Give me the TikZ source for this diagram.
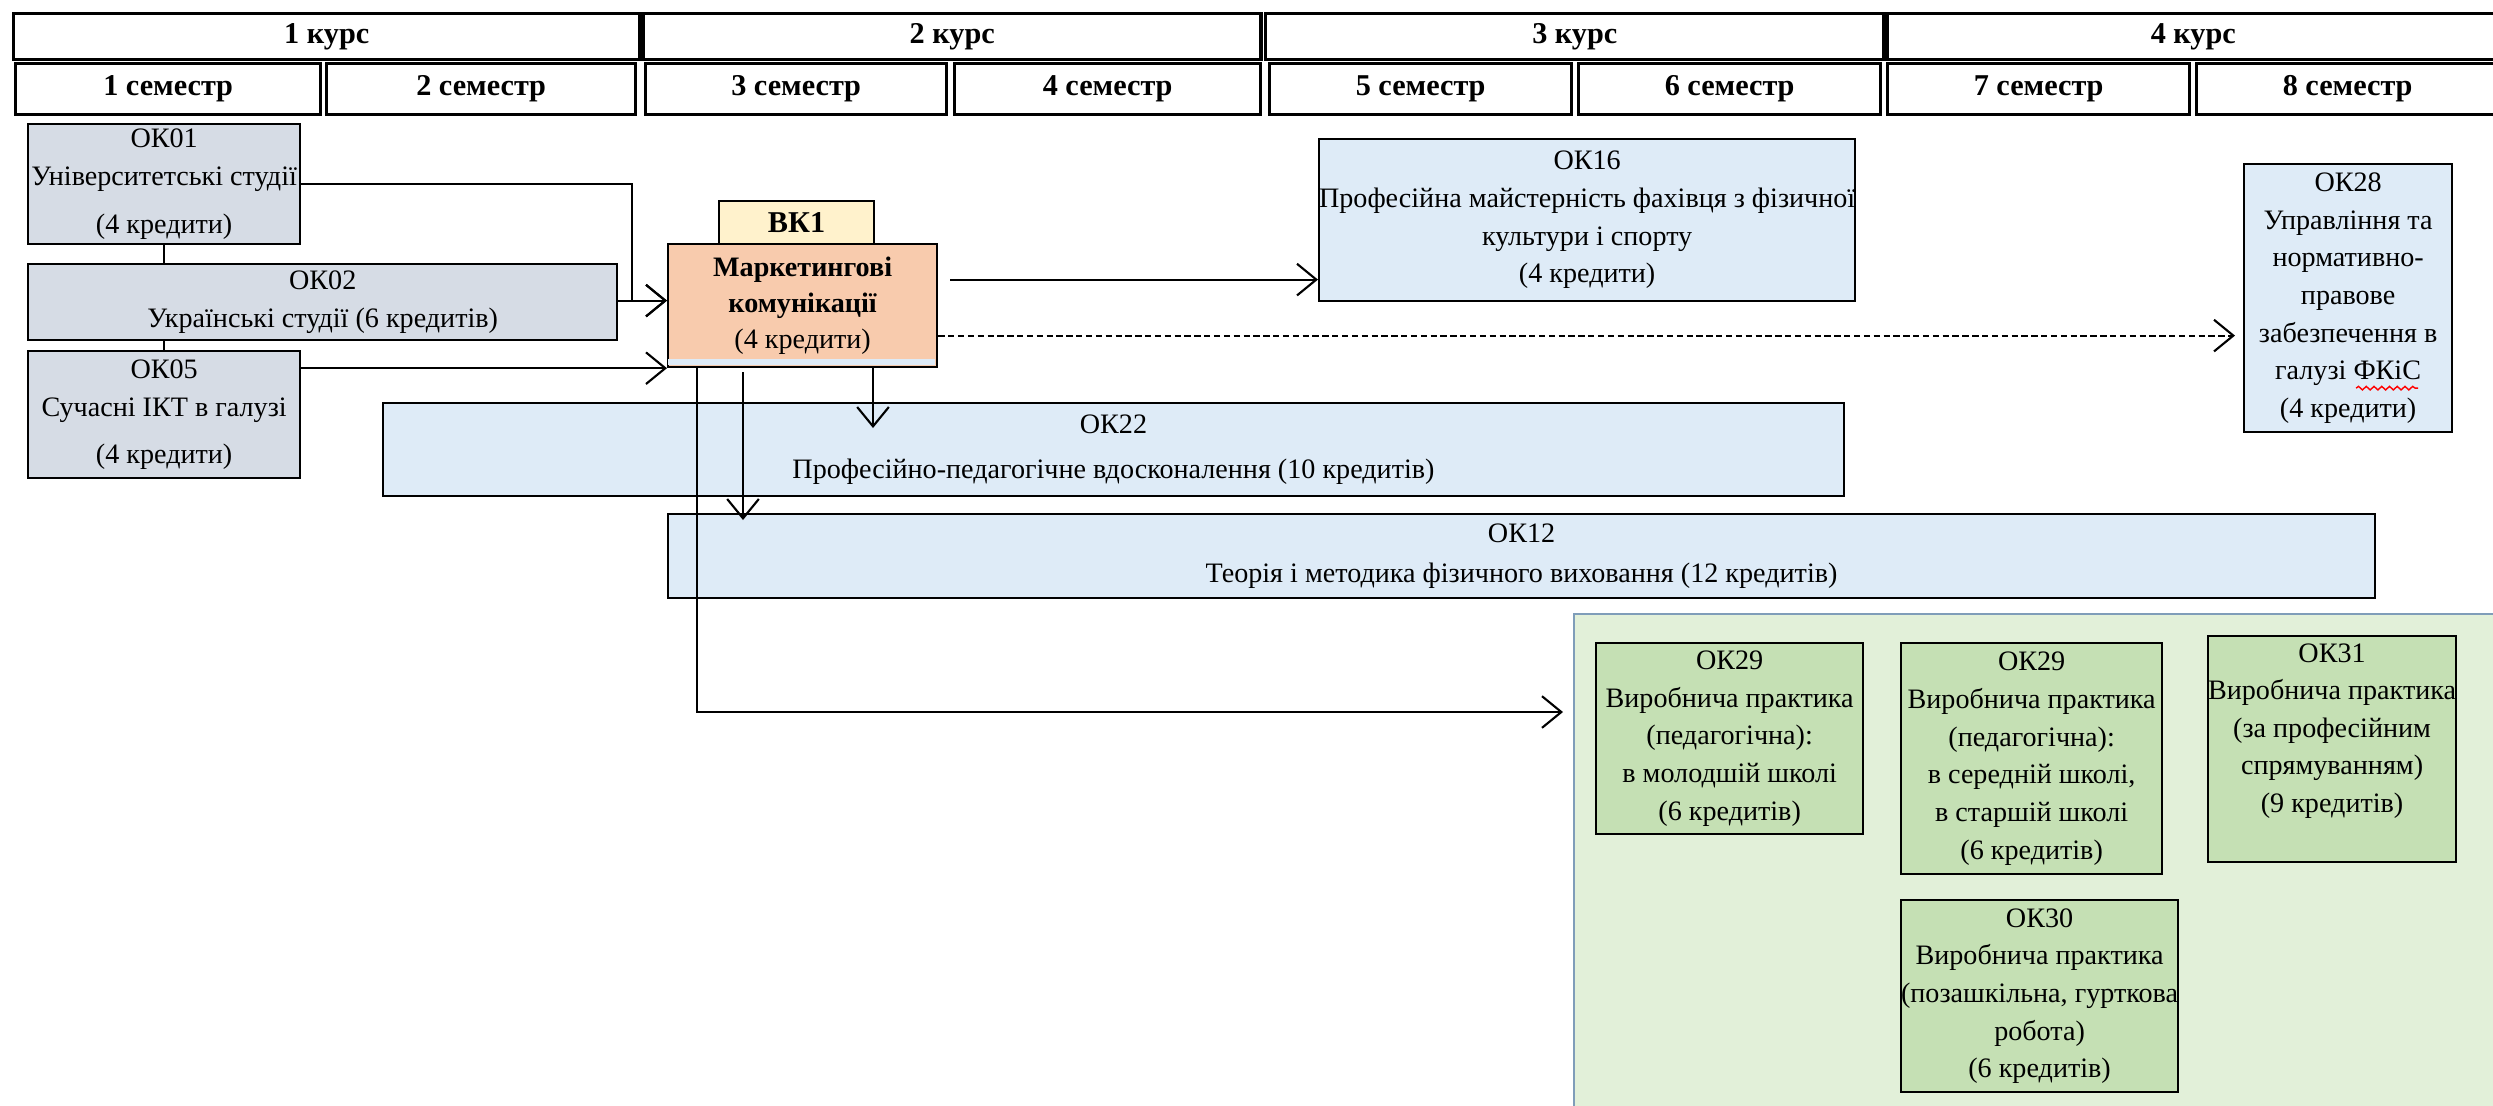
\documentclass[tikz,border=0pt]{standalone}
\usepackage{fontspec}
\setmainfont{Liberation Serif}
\usetikzlibrary{arrows.meta,calc,decorations.pathmorphing}
\definecolor{cgray}{HTML}{D6DCE5}
\definecolor{cblue}{HTML}{DEEBF7}
\definecolor{cpeach}{HTML}{F8CBAD}
\definecolor{ctab}{HTML}{FFF2CC}
\definecolor{cgreenbg}{HTML}{E2F0D9}
\definecolor{cgreen}{HTML}{C5E0B4}
\definecolor{cframe}{HTML}{7F9DB9}
\begin{document}
\begin{tikzpicture}[x=0.01cm,y=-0.01cm,
  hdrbox/.style={draw=black, line width=0.9pt, fill=white, inner sep=0pt, anchor=north west,
    font=\fontsize{8.6}{10}\selectfont\bfseries},
  basebox/.style={draw=black, line width=0.6pt, inner sep=0pt, align=center, anchor=north west,
    font=\fontsize{8}{10.7}\selectfont},
  greybox/.style={basebox, fill=cgray},
  bluebox/.style={basebox, fill=cblue},
  greenbox/.style={basebox, fill=cgreen},
  connline/.style={line width=0.6pt, draw=black},
  arrowline/.style={connline, -{Straight Barb[length=5.5pt,width=9pt,line width=0.6pt]}},
]
\useasboundingbox (0,0) rectangle (2493,1105);
\clip (0,0) rectangle (2493,1105);

% header
\node[hdrbox, minimum width=6.26cm, minimum height=0.46cm] (k1) at (12,12) {1 курс};
\node[hdrbox, minimum width=6.17cm, minimum height=0.46cm] (k2) at (642,12) {2 курс};
\node[hdrbox, minimum width=6.18cm, minimum height=0.46cm] (k3) at (1264,12) {3 курс};
\node[hdrbox, minimum width=6.11cm, minimum height=0.46cm] (k4) at (1886,12) {4 курс};
\node[hdrbox, minimum width=3.05cm, minimum height=0.51cm] (s1) at (14,62) {1 семестр};
\node[hdrbox, minimum width=3.09cm, minimum height=0.51cm] (s2) at (325,62) {2 семестр};
\node[hdrbox, minimum width=3.01cm, minimum height=0.51cm] (s3) at (644,62) {3 семестр};
\node[hdrbox, minimum width=3.06cm, minimum height=0.51cm] (s4) at (953,62) {4 семестр};
\node[hdrbox, minimum width=3.02cm, minimum height=0.51cm] (s5) at (1268,62) {5 семестр};
\node[hdrbox, minimum width=3.02cm, minimum height=0.51cm] (s6) at (1577,62) {6 семестр};
\node[hdrbox, minimum width=3.02cm, minimum height=0.51cm] (s7) at (1886,62) {7 семестр};
\node[hdrbox, minimum width=3.02cm, minimum height=0.51cm] (s8) at (2195,62) {8 семестр};

% left column
\node[greybox, minimum width=2.72cm, minimum height=1.20cm] (ok01) at (27,123)
  {ОК01\\Університетські студії\\[2.8pt](4 кредити)};
\node[greybox, minimum width=5.89cm, minimum height=0.76cm] (ok02) at (27,263)
  {ОК02\\Українські студії (6 кредитів)};
\node[greybox, minimum width=2.72cm, minimum height=1.27cm] (ok05) at (27,350)
  {ОК05\\Сучасні ІКТ в галузі\\[2.8pt](4 кредити)};

% VK1
\node[basebox, fill=ctab, minimum width=1.55cm, minimum height=0.43cm,
  font=\fontsize{8.6}{10}\selectfont\bfseries] (vktab) at (718,200) {ВК1};
\node[basebox, fill=cpeach, minimum width=2.69cm, minimum height=1.23cm,
  font=\fontsize{8}{10.2}\selectfont] (vk) at (667,243)
  {\textbf{Маркетингові}\\\textbf{комунікації}\\(4 кредити)};
\fill[cblue] (668,359) rectangle (935,365);

% right boxes
\node[bluebox, minimum width=5.22cm, minimum height=1.62cm] (ok16) at (1318,138)
  {ОК16\\Професійна майстерність фахівця з фізичної\\культури і спорту\\(4 кредити)};
\node[bluebox, minimum width=2.08cm, minimum height=2.68cm] (ok28) at (2243,163)
  {ОК28\\Управління та\\нормативно-\\правове\\забезпечення в\\галузі ФКіС\\(4 кредити)};
\draw[red, line width=0.4pt, decorate, decoration={snake, amplitude=0.5pt, segment length=2.2pt}]
  ($(ok28.center)+(8,90)$) -- ($(ok28.center)+(70,90)$);
\node[bluebox, minimum width=14.60cm, minimum height=0.93cm] (ok22) at (382,402)
  {ОК22\\[2.3pt]Професійно-педагогічне вдосконалення (10 кредитів)};
\node[bluebox, minimum width=17.06cm, minimum height=0.84cm] (ok12) at (667,513)
  {ОК12\\[0.9pt]Теорія і методика фізичного виховання (12 кредитів)};

% practice region
\node[draw=cframe, fill=cgreenbg, line width=0.6pt, inner sep=0pt, anchor=north west,
  minimum width=9.40cm, minimum height=5.00cm] (prac) at (1573,613) {};
\node[greenbox, minimum width=2.67cm, minimum height=1.91cm] (ok29a) at (1595,642)
  {ОК29\\Виробнича практика\\(педагогічна):\\в молодшій школі\\(6 кредитів)};
\node[greenbox, minimum width=2.61cm, minimum height=2.31cm] (ok29b) at (1900,642)
  {ОК29\\Виробнича практика\\(педагогічна):\\в середній школі,\\в старшій школі\\(6 кредитів)};
\node[greenbox, minimum width=2.44cm, minimum height=2.26cm, text depth=12pt] (ok31) at (2207,635)
  {ОК31\\Виробнича практика\\(за професійним\\спрямуванням)\\(9 кредитів)};
\node[greenbox, minimum width=2.64cm, minimum height=1.92cm] (ok30) at (1900,899)
  {ОК30\\Виробнича практика\\(позашкільна, гурткова\\робота)\\(6 кредитів)};

% connectors on the left
\coordinate (vkin) at ($(vk.west)+(0,-5)$);
\draw[connline] (ok01.south) -- (ok01.south |- ok02.north);
\draw[connline] (ok05.north) -- (ok05.north |- ok02.south);
\draw[arrowline] (ok01.east) -| ($(vkin)+(-35,0)$) -- (vkin);
\draw[arrowline] (ok02.east |- vkin) -- (vkin);
\draw[arrowline] (vk.south west -| ok05.east) -- (vk.south west);

% connectors from VK1
\coordinate (vb1) at ($(vk.south west)+(30,0)$);
\coordinate (vb2) at ($(vk.south west)+(76,0)$);
\coordinate (vb3) at ($(vk.south west)+(206,0)$);
\coordinate (a16) at ($(vk.east)+(12,-26)$);
\coordinate (a28) at ($(vk.east)+(0,30)$);
\coordinate (pin) at ($(prac.north west)+(0,99)$);
\draw[arrowline] (a16) -- (a16 -| ok16.west);
\draw[arrowline, dash pattern=on 1.8pt off 1pt, shorten >=0.08cm] (a28) -- (a28 -| ok28.west);
\draw[arrowline, shorten >=-0.26cm] (vb3) -- (vb3 |- ok22.north);
\draw[arrowline, shorten <=0.04cm, shorten >=-0.07cm] (vb2) -- (vb2 |- ok12.north);
\draw[arrowline, shorten >=0.1cm] (vb1) |- (pin);
\end{tikzpicture}
\end{document}
